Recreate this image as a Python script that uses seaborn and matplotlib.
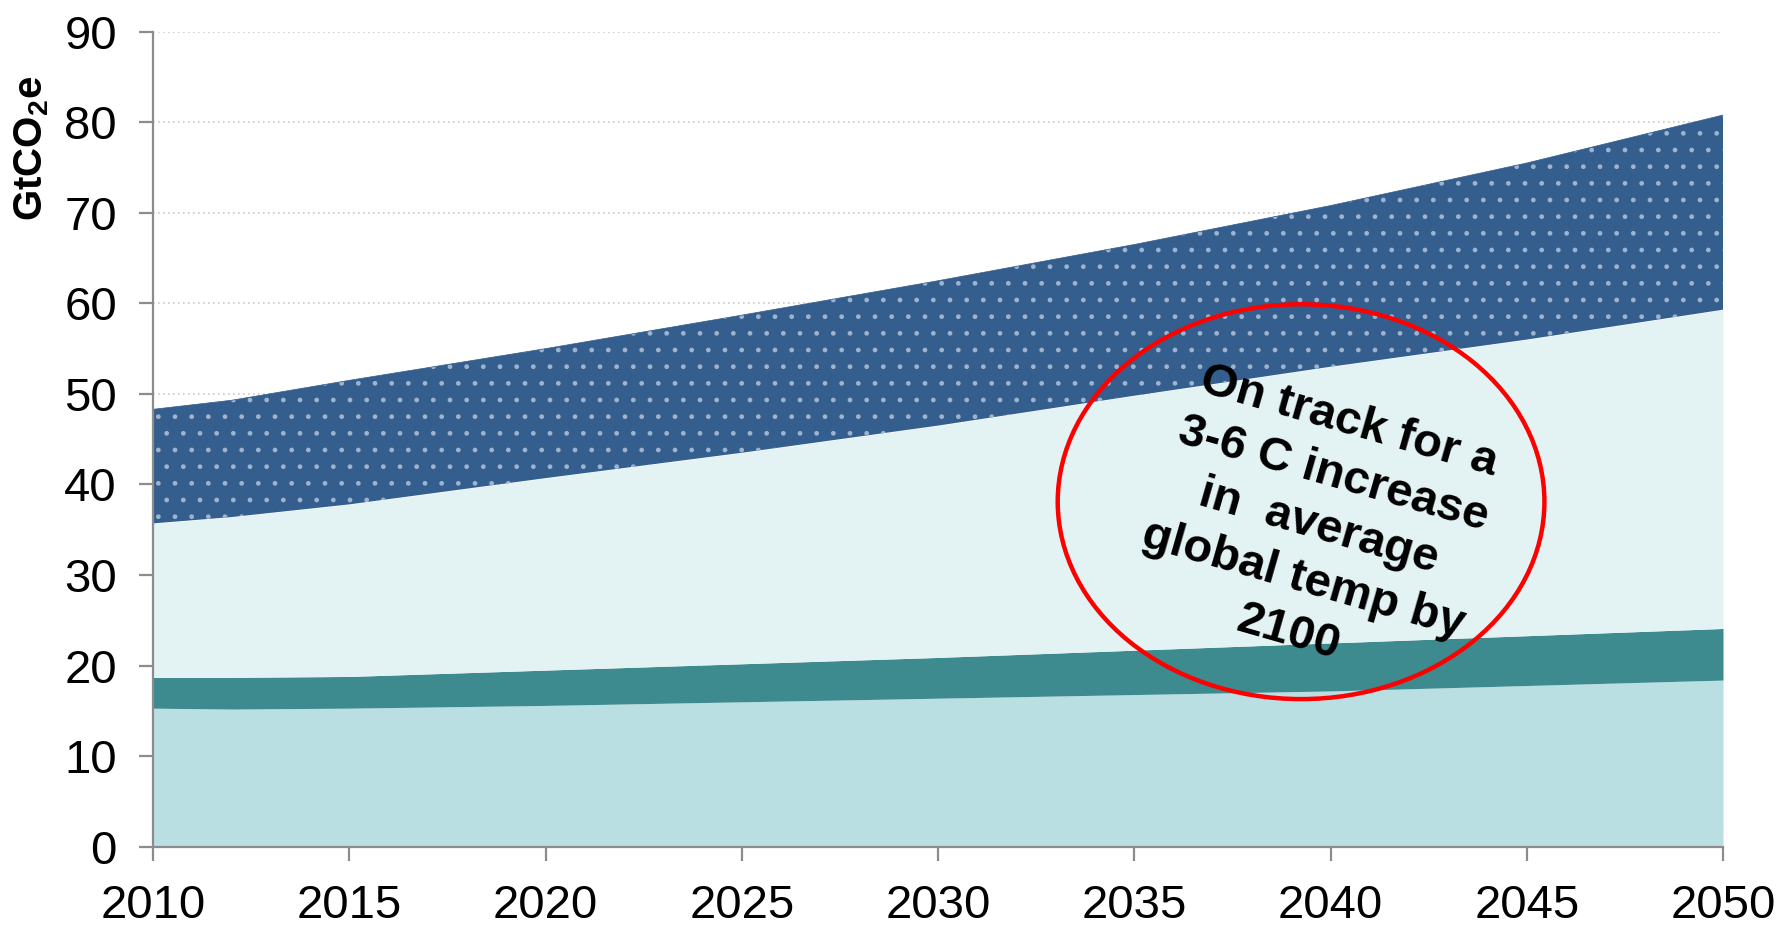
import matplotlib
matplotlib.use("Agg")
import matplotlib.pyplot as plt
from matplotlib.patches import Ellipse
import seaborn as sns
import numpy as np

years = [2010, 2012, 2015, 2020, 2025, 2030, 2035, 2040, 2045, 2050]
base_layer = [15.3, 15.2, 15.3, 15.6, 16.0, 16.4, 16.8, 17.2, 17.8, 18.4]
teal_layer = [3.4, 3.5, 3.5, 3.9, 4.2, 4.5, 4.9, 5.3, 5.5, 5.7]
light_layer = [17.0, 17.7, 19.0, 21.2, 23.3, 25.6, 28.1, 30.5, 32.7, 35.2]
blue_layer = [12.6, 12.9, 13.7, 14.3, 15.2, 16.0, 16.7, 17.8, 19.5, 21.5]
x_ticks = [2010, 2015, 2020, 2025, 2030, 2035, 2040, 2045, 2050]
y_ticks = [0, 10, 20, 30, 40, 50, 60, 70, 80, 90]
annotation = "On track for a\n3-6 C increase\nin  average\nglobal temp by\n2100"

sns.set_theme(style="white")
plt.rcParams['font.family'] = ['Liberation Sans', 'DejaVu Sans']
plt.rcParams['text.color'] = 'black'
plt.rcParams['mathtext.fontset'] = 'custom'
plt.rcParams['mathtext.rm'] = 'Liberation Sans:bold'
plt.rcParams['mathtext.bf'] = 'Liberation Sans:bold'

fig = plt.figure(figsize=(17.81, 9.25), dpi=100)
ax = fig.add_axes([153/1781, 1-846.7/925, (1723-153)/1781, (846.7-31.7)/925])

x = np.array(years, dtype=float)
b = np.array(base_layer)
t = b + np.array(teal_layer)
l = t + np.array(light_layer)
u = l + np.array(blue_layer)

ax.fill_between(x, 0, b, color="#B9DFE3", lw=0, zorder=2)
ax.fill_between(x, b, t, color="#3D8A8F", lw=0, zorder=2)
ax.fill_between(x, t, l, color="#E3F3F4", lw=0, zorder=2)
ax.fill_between(x, l, u, facecolor="#345E8E", edgecolor="#9DB3CF", hatch=".", lw=0, zorder=2)
sns.lineplot(x=x, y=u, ax=ax, color="#345E8E", lw=0.5, zorder=3)

ax.set_xlim(2010, 2050)
ax.set_ylim(0, 90)
ax.set_xticks(x_ticks)
ax.set_yticks(y_ticks)
ax.set_xticklabels([str(v) for v in x_ticks])
ax.set_yticklabels([str(v) for v in y_ticks])

for yv in y_ticks[1:]:
    ax.axhline(yv, color="#C8C8C8", ls=(0, (1, 2)), lw=1.2, zorder=1)

for s in ["top", "right"]:
    ax.spines[s].set_visible(False)
for s in ["left", "bottom"]:
    ax.spines[s].set_color("#8C8C8C")
    ax.spines[s].set_linewidth(1.6)
    ax.spines[s].set_zorder(4)

ax.tick_params(axis="both", which="both", direction="out", length=10, width=1.6,
               color="#8C8C8C", labelsize=34, labelcolor="black")
ax.tick_params(axis="y", pad=16)
ax.tick_params(axis="x", pad=17)
ax.tick_params(left=True, bottom=True)

fig.text(32/1781, 1-148/925, r"$\mathbf{GtCO_2e}$", rotation=90, ha="center", va="center",
         fontsize=29, color="black")

ell = Ellipse((2039.25, 38.1), width=12.4, height=43.6, fill=False, edgecolor="#FF0000",
              lw=3.2, zorder=5, clip_on=False)
ax.add_patch(ell)
ax.text(2039.7, 35.3, annotation, rotation=-16, rotation_mode="anchor", ha="center", va="center",
        multialignment="center", fontsize=34, fontweight="bold", linespacing=1.32,
        color="black", zorder=6)

fig.savefig("out.png", dpi=100)
